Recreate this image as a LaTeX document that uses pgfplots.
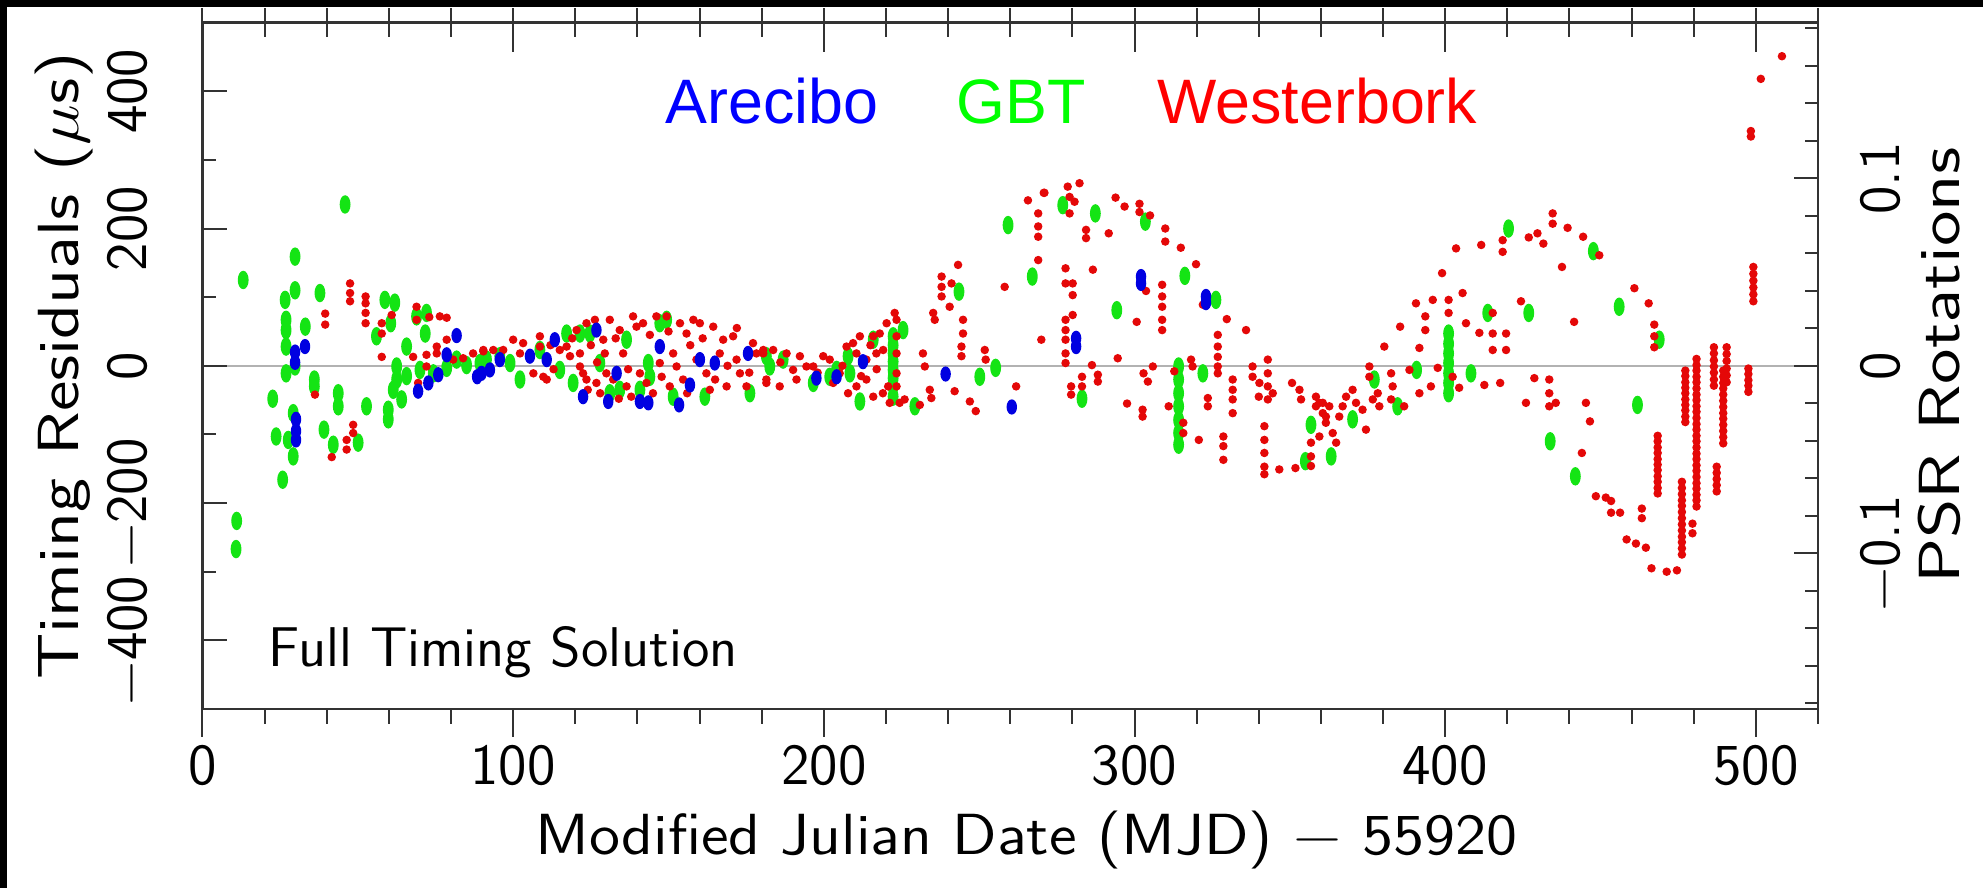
\documentclass[border=0pt]{standalone}
\usepackage{fontspec}
\newfontfamily\arial{Liberation Sans}
\usepackage{graphicx}
\usepackage{pgfplots}
\pgfplotsset{compat=1.18}

\definecolor{wsrt}{RGB}{228,8,8}
\definecolor{gbt}{RGB}{20,228,20}
\definecolor{ao}{RGB}{0,0,225}
\newcommand\hershey{\sffamily\fontsize{14.5}{16}\selectfont}

\pgfplotsset{
  base/.style={scale only axis, width=403.875pt, height=171.6pt,
    xmin=0, xmax=520,
    axis line style={line width=0.6pt, black!80},
    tick style={line width=0.5pt, black!80}},
}

\begin{document}
\begin{tikzpicture}

% data, bottom ticks
\begin{axis}[base, ymin=-500, ymax=500,
  xtick pos=left, tick align=outside,
  xtick={0,100,...,500}, minor xtick={0,20,...,520},
  major tick length=7pt, minor tick length=3.75pt,
  ytick=\empty,
  xticklabel style={font=\hershey, inner sep=0pt},
  xticklabel shift=1.75pt,
  /pgf/number format/assume math mode=true,
  xlabel={\scalebox{1.09}[1]{Modified Julian Date (MJD) − 55920}},
  xlabel style={font=\hershey, inner sep=0pt, at={(axis description cs:0.5,0)}, anchor=base, yshift=-36.5pt, xshift=4pt},
]
\addplot[gray!60, line width=0.5pt] coordinates {(0,0) (520,0)};

% GBT
\addplot[only marks, mark=*, color=gbt, mark size=2.1pt, mark options={draw=none, xscale=0.55}] coordinates {
(13.1,125) (45.9,235) (29.8,159) (29.8,110) (26.6,96) (26.9,67) (26.9,52) (26.9,28) (33.1,57) (37.8,106)
(58.7,96) (61.9,92) (56,43) (60.6,62) (65.7,28) (68.9,72) (72.1,77) (71.7,47) (62.5,-1) (62.5,-20)
(65.7,-15) (61.4,-35) (64.1,-49) (26.9,-11) (29.8,-1) (22.6,-48) (36,-20) (36,-30) (43.7,-40) (43.7,-59)
(52.8,-59) (59.8,-64) (59.8,-78) (29.2,-69) (29.2,-132) (23.7,-103) (27.6,-108) (39.1,-93) (42.1,-115) (50.1,-112)
(25.8,-166) (11,-226) (10.8,-267) (70,-6) (74.3,-11) (78.6,-3) (81.8,9) (85,1) (89.3,4)
(91.4,9) (95.7,14) (99,4) (102.2,-20) (108.6,23) (115,-6) (117.2,47) (119.3,-25) (121.5,47) (124.7,47)
(127.9,4) (131.1,-40) (134.3,-35) (136.5,38) (140.8,-35) (143.5,4) (144,-16) (147.2,62) (149.4,67) (151.5,-45)
(161.7,-45) (176.2,-40) (181.5,14)
(182.6,-1) (186.9,9) (196.6,-25) (201.9,-16) (204.1,-6) (207.8,14) (208.4,-11) (211.6,-52) (215.9,38)
(222.3,43) (222.3,30) (222.3,18) (222.3,6) (222.3,-6) (222.3,-18) (222.3,-30) (222.3,-45) (225.5,52) (229.3,-59)
(243.5,108) (250.2,-16) (255.3,-3) (259.3,205) (267.1,130)
(276.9,234) (287.4,222) (303.5,210) (316.2,131) (326.2,96) (294.3,81) (322,-11) (283.1,-48)
(314.2,-1) (314.2,-20) (314.2,-40) (314.2,-59) (314.2,-79) (314.2,-98) (314.2,-115) (356.8,-86) (355,-139)
(363.3,-132) (370.2,-78) (377.2,-20) (384.7,-59) (390.8,-6) (401.1,47) (401.1,32) (401.1,18) (401.1,4)
(401.1,-11) (401.1,-25) (401.1,-40) (408.3,-11) (413.7,77) (420.4,200) (426.9,77) (433.8,-110) (441.9,-161)
(447.7,167) (456,86) (468.9,38) (461.9,-57)
};

% Westerbork
\addplot[only marks, mark=*, color=wsrt, mark size=0.85pt, mark options={draw=none}] coordinates {
(47.5,120) (47.5,106) (47.5,94) (52.5,101) (52.5,91) (52.5,77) (52.5,62) (39.5,76) (39.5,60) (57.7,62)
(57.7,47) (57.7,13) (60.9,74) (68.9,86) (68.9,67) (73,71) (76.4,72) (78.6,70) (78.6,38) (75.4,28)
(75.4,18) (67.8,13) (72.1,16) (72.1,-1) (36.2,-42) (41.6,-133) (46.4,-108) (46.4,-122) (48.5,-86) (48.5,-98)
(80.7,9) (83.9,11) (87.1,18) (90.4,21) (69.4,-25)
(90.4,23) (93.6,23) (96.8,23) (100,38) (102.2,18) (103.2,33) (106.5,-11) (108.6,43) (108.6,28) (109.7,-16)
(110.8,-20) (115,23) (117.2,28) (118.3,14) (120.4,52) (121.5,18) (121.5,-1) (122.5,-11) (123.6,62) (123.6,-20)
(126.3,67) (126.8,-25) (129,38) (129.5,18) (130,-11) (131.1,67) (132.2,-20) (134.3,52) (135.4,18) (136.5,-30)
(138.6,72) (139.7,57) (140.8,-11) (141.8,62) (142.9,-25) (146.1,72) (147.2,4) (147.8,-16) (149.4,72) (150.4,-30)
(151.5,18) (152.6,-1) (153.7,62) (154.7,-20) (155.8,47) (158,67) (159,9) (160.1,62) (162.2,-11) (163.3,-35)
(164.4,57) (166.5,18) (167.6,38) (168.7,-30) (170.8,43) (171.9,9) (173,-11) (175.1,-30) (177.2,33) (178.3,18)
(180.5,23) (181.5,-20) (112,30) (113,-5) (119,40) (125,30) (127,5) (133,40) (137,-5) (144,45)
(145,-40) (150,50) (156,-40) (157,30) (161,40) (165,-20) (169,0) (172,55) (176,-10) (124,-35)
(128,-40) (138,-45) (134,-48)
(180.5,18) (181.5,-25) (183.7,23) (185.8,-30) (188,18) (190.1,-6) (191.2,-20) (192.3,14) (194.4,-1) (196.6,-1)
(199.8,14) (201.9,9) (203,-25) (205.1,-11) (207.3,28) (207.8,-40) (209.4,33) (210.5,18) (210.5,-30) (211.6,43)
(213.7,9) (215.9,43) (215.9,-45) (216.9,18) (218,47) (219.1,23) (220.2,62) (220.7,-30) (221.2,-54) (222.8,77)
(223.4,67) (223.4,43) (223.4,18) (223.4,-11) (223.4,-30) (224.4,-54) (226,-49) (230.9,-57) (231.9,18) (232.5,-1)
(234.1,-35) (234.6,-47) (235.2,77) (235.7,67) (237.9,130) (237.9,115) (237.9,101) (240.5,86) (241.1,120) (243.2,147)
(242.1,-37) (244.8,67) (244.8,47) (244.3,28) (244.3,14) (247,-52) (248.9,-66) (251.8,23) (252.1,9) (258.2,115)
(261.9,-30) (265.7,241) (269,222) (269,203) (269,188) (269,154) (270,38) (270.8,252)
(186,5) (198,-10) (206,0) (212,-15) (217,-5) (213.7,-20) (219,-40) (215,30)
(271,252) (278.5,261) (279.1,246) (279.1,222) (282.3,266) (280.7,239) (284.4,198) (284.4,186) (291.7,193) (293.9,245)
(296.8,232) (301.6,236) (301.6,224) (305,219) (309.9,200) (309.9,181) (314.9,172) (319.8,148) (286.6,140) (277.8,142)
(277.8,120) (280.1,120) (280.1,103) (280.1,74) (277.8,67) (277.8,52) (277.8,38) (277.8,18) (277.8,4) (303.7,109)
(300.7,64) (308.9,118) (308.9,101) (308.9,86) (308.9,67) (308.9,52) (322,89) (329.7,68) (335.9,52) (294.6,11)
(286.3,1) (288.2,-13) (288.2,-23) (283.1,-16) (283.1,-30) (279.6,-30) (279.6,-42) (302.9,-11) (304.3,-23) (305.9,-1)
(312.8,-8) (318.2,9) (318.7,-1) (326.8,45) (326.8,28) (326.8,13) (326.8,-1) (326.8,-11) (323.6,-47) (323.6,-59)
(331.6,-20) (331.6,-35) (331.6,-49) (331.6,-69) (338,-1) (338,-16) (340.2,-25) (340,-45) (342.9,9) (342.9,-11)
(342.9,-30) (342.9,-49) (344.5,-40) (350.7,-25) (353.1,-35) (353.6,-49) (358.4,-45) (358.4,-59) (360.6,-54) (361.6,-74)
(359.5,-103) (297.6,-55) (302.6,-64) (302.6,-74) (311,-59) (320.7,-108) (315.7,-83) (315.7,-98) (328.6,-103) (328.6,-117)
(328.6,-137) (341.8,-88) (341.8,-108) (341.8,-127) (341.8,-147) (341.8,-158) (346.6,-151) (351.8,-149) (356.8,-112) (356.8,-132)
(356.8,-146)
(359.5,-54) (360.6,-69) (361.6,-83) (362.7,-59) (363.8,-98) (364.9,-112) (365.9,-74) (367,-59) (368.1,-45) (370.2,-35)
(371.3,-54) (373.4,-64) (374.5,-93) (375.6,-1) (375.6,-16) (376.7,-49) (378.3,-40) (378.8,-59) (380.4,28) (382.6,-11)
(383.1,-30) (382.6,-49) (386.8,-59) (385.5,57) (388.5,-6) (390.6,91) (391.7,26) (391.7,-40) (393.6,72) (393.6,52)
(396,96) (395.4,-30) (397.6,-3) (399,135) (401.1,96) (401.1,77) (403.5,171) (402.4,-16) (404.5,-32) (405.6,106)
(406.7,62) (411,48) (411.6,176) (412.6,-28) (415.3,77) (415.3,47) (415.3,23) (417.7,-25) (418.5,183) (418.5,166)
(419.6,47) (419.6,23) (424.4,94) (426,-54) (426.9,187) (428.7,-18) (429.7,193) (431.6,178) (433.5,-20) (433.5,-40)
(433.5,-59) (434.6,222) (434.6,207) (437.6,144) (439.4,201) (441.5,64) (444.4,188) (449.6,161) (435.6,-54) (445.3,-54)
(446.6,-81) (444,-127) (448.5,-190) (451.7,-192)
(460.9,113) (465.5,91) (467.3,60) (467.3,43) (467.3,27) (453.4,-197) (453.4,-214) (456.3,-214) (463.3,-208) (463.3,-222)
(458.4,-253) (461.4,-259) (464.6,-265) (466.4,-295) (471.3,-300) (474.6,-298)
(468.4,-102) (468.4,-110) (468.4,-119) (468.4,-127) (468.4,-136) (468.4,-144) (468.4,-152) (468.4,-161) (468.4,-169) (468.4,-178) (468.4,-186)
(476.2,-169) (476.2,-178) (476.2,-187) (476.2,-196) (476.2,-204) (476.2,-213) (476.2,-222) (476.2,-231) (476.2,-240) (476.2,-249) (476.2,-257) (476.2,-266) (476.2,-275)
(477.3,-7) (477.3,-15) (477.3,-24) (477.3,-32) (477.3,-40) (477.3,-49) (477.3,-57) (477.3,-65) (477.3,-74) (477.3,-82)
(479.6,-230) (479.6,-244)
(480.9,10) (480.9,1) (480.9,-7) (480.9,-16) (480.9,-24) (480.9,-33) (480.9,-42) (480.9,-50) (480.9,-59) (480.9,-67)
(480.9,-76) (480.9,-85) (480.9,-93) (480.9,-102) (480.9,-110) (480.9,-119) (480.9,-128) (480.9,-136) (480.9,-145) (480.9,-153)
(480.9,-162) (480.9,-171) (480.9,-179) (480.9,-188) (480.9,-196) (480.9,-205)
(486.5,27) (486.5,18) (486.5,8) (486.5,-1) (486.5,-10) (486.5,-20) (486.5,-29)
(487.4,-147) (487.4,-156) (487.4,-165) (487.4,-174) (487.4,-183)
(489.5,-7) (489.5,-16) (489.5,-25) (489.5,-33) (489.5,-42) (489.5,-51) (489.5,-60) (489.5,-69) (489.5,-77) (489.5,-86) (489.5,-95) (489.5,-104) (489.5,-113)
(490.6,27) (490.6,17) (490.6,7) (490.6,-4) (490.6,-14) (490.6,-24)
(497.6,-4) (497.6,-12) (497.6,-21) (497.6,-29) (497.6,-38)
(499.2,144) (499.2,134) (499.2,124) (499.2,114) (499.2,104) (499.2,94)
(498.4,334) (498.4,342) (501.6,418) (508.4,451)
};

% Arecibo
\addplot[only marks, mark=*, color=ao, mark size=1.7pt, mark options={draw=none, xscale=0.65}] coordinates {
(33,28) (29.8,20) (29.8,5) (30.1,-78) (30.1,-95) (30.1,-108) (81.8,44) (78.6,16) (69.4,-37) (72.7,-25)
(75.9,-13) (88.4,-16)
(89.8,-11) (92.5,-6) (95.7,9) (105.4,14) (110.8,9) (113.4,38) (122.5,-45) (126.8,52) (130.6,-52) (133.3,-11)
(140.8,-52) (143.5,-54) (147.2,28) (153.4,-57) (156.9,-28) (160.1,9) (164.9,4) (175.6,18)
(197.6,-18) (204.1,-16) (212.6,6) (239.2,-12) (260.5,-60)
(302.1,130) (302.1,120) (323,101) (323,92) (281.2,40) (281.2,28)
};

\node[font=\sffamily\fontsize{14}{16}\selectfont, anchor=base west, inner sep=0pt] at (axis cs:21,-438) {Full Timing Solution};
\node[font=\arial\fontsize{15.7}{18}\selectfont, text=blue, anchor=base west, inner sep=0pt] at (axis cs:148.8,353) {Arecibo};
\node[font=\arial\fontsize{15.7}{18}\selectfont, text=green, anchor=base west, inner sep=0pt] at (axis cs:242.4,353) {GBT};
\node[font=\arial\fontsize{15.7}{18}\selectfont, text=red, anchor=base west, inner sep=0pt] at (axis cs:307.1,353) {Westerbork};
\end{axis}

% left ticks and label
\begin{axis}[base, ymin=-500, ymax=500,
  xtick=\empty, ytick pos=left, tick align=inside,
  ytick={-400,-200,0,200,400}, yticklabels={−400,−200,0,200,400},
  minor ytick={-500,-300,-100,100,300,500},
  major tick length=6.1pt, minor tick length=3.35pt,
  yticklabel style={font=\hershey, rotate=90, anchor=south, inner sep=0pt},
  yticklabel shift=13.4pt,
  ylabel={\scalebox{1.2}[1]{Timing Residuals ($\mu$s)}},
  ylabel style={font=\hershey, inner sep=0pt, at={([xshift=-31pt]axis description cs:0,0.5)}, anchor=base},
]
\end{axis}

% top ticks, pointing in
\begin{axis}[base, ymin=-500, ymax=500,
  ytick=\empty, xtick pos=right, tick align=inside,
  xtick={0,100,...,500}, minor xtick={0,20,...,520}, xticklabels={},
  major tick length=7.3pt, minor tick length=3.6pt]
\end{axis}

% top ticks, pointing out
\begin{axis}[base, ymin=-500, ymax=500,
  ytick=\empty, xtick pos=right, tick align=outside,
  xtick={0,100,...,500}, minor xtick={0,20,...,520}, xticklabels={},
  major tick length=3.6pt, minor tick length=3.6pt]
\end{axis}

% right axis in pulsar rotations (P = 2.7326 ms)
\begin{axis}[base, ymin=-0.18298, ymax=0.18298,
  xtick=\empty, ytick pos=right, yticklabel pos=right, tick align=inside,
  ytick={-0.1,0,0.1}, yticklabels={−0.1,0,0.1},
  minor ytick={-0.18,-0.16,...,0.181},
  major tick length=6pt, minor tick length=3.25pt,
  yticklabel style={font=\hershey, rotate=90, anchor=north, inner sep=0pt},
  yticklabel shift=10.3pt,
  ylabel={\scalebox{1.25}[1]{PSR Rotations}},
  ylabel style={font=\hershey, inner sep=0pt, at={([xshift=35.4pt]axis description cs:1,0.5)}, anchor=base},
]
\end{axis}

\pgfresetboundingbox
\path[use as bounding box] (-50.625pt,-44.75pt) rectangle (445.125pt,177.25pt);
\fill[black] (-50.625pt,175.4pt) rectangle (445.125pt,177.25pt);
\fill[black] (-50.625pt,-44.75pt) rectangle (-48.9pt,177.25pt);
\end{tikzpicture}
\end{document}
